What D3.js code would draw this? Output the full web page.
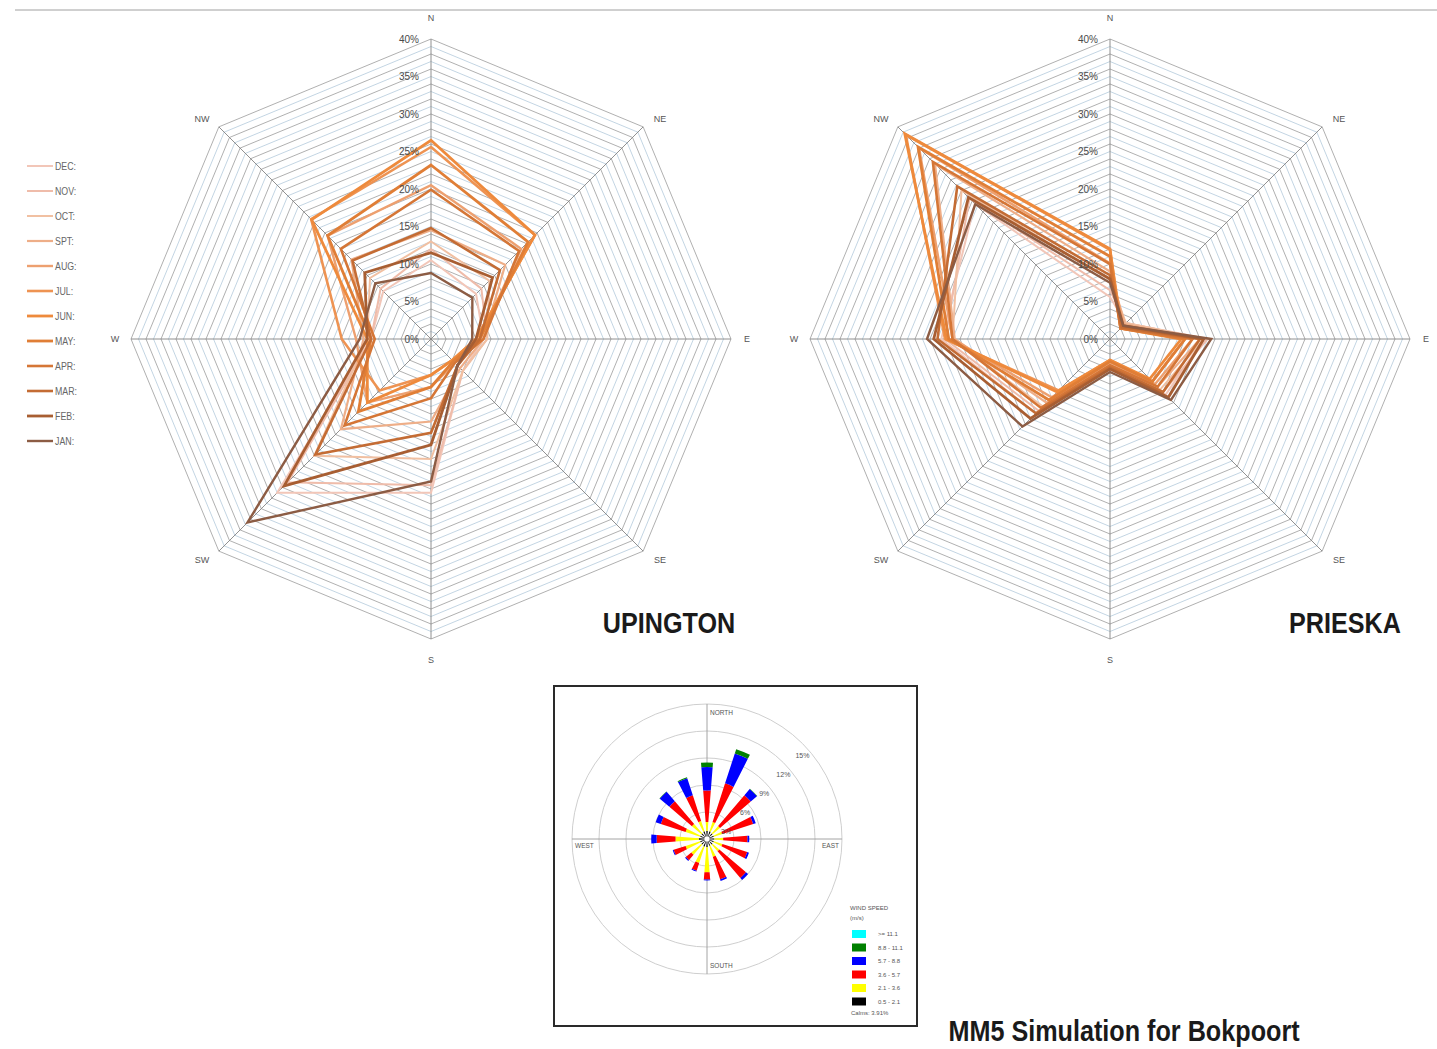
<!DOCTYPE html>
<html>
<head>
<meta charset="utf-8">
<script src="https://cdn.jsdelivr.net/npm/d3@7"></script>
<style>
  html, body { margin: 0; padding: 0; background: #fff; }
  svg { display: block; }
</style>
</head>
<body>
<svg id="chart" width="1437" height="1049"></svg>
<script>
// ---------------- data ----------------
const compass = ["N", "NE", "E", "SE", "S", "SW", "W", "NW"];
const monthLabels = ["DEC:", "NOV:", "OCT:", "SPT:", "AUG:", "JUL:", "JUN:", "MAY:", "APR:", "MAR:", "FEB:", "JAN:"];
const radarTicks = [0, 5, 10, 15, 20, 25, 30, 35, 40];
const radarTickLabels = ["0%", "5%", "10%", "15%", "20%", "25%", "30%", "35%", "40%"];

// Upington: monthly wind direction frequency (%), order N, NE, E, SE, S, SW, W, NW
const upingtonDEC = [10.5, 8.5, 7.0, 6.0, 20.5, 29.0, 8.0, 9.0];
const upingtonNOV = [12.0, 9.5, 7.5, 6.0, 19.5, 27.0, 8.0, 9.5];
const upingtonOCT = [13.0, 11.0, 7.5, 6.0, 16.0, 22.0, 8.5, 11.5];
const upingtonSPT = [14.5, 14.0, 7.0, 5.5, 11.0, 17.0, 9.0, 15.0];
const upingtonAUG = [20.5, 17.0, 6.5, 4.5, 6.4, 12.0, 10.0, 19.5];
const upingtonJUL = [25.6, 19.6, 6.0, 4.0, 4.8, 9.7, 11.9, 22.6];
const upingtonJUN = [26.5, 19.6, 6.0, 4.0, 4.8, 12.0, 8.5, 22.5];
const upingtonMAY = [23.2, 18.3, 6.5, 4.2, 6.4, 13.7, 8.0, 19.5];
const upingtonAPR = [19.9, 16.6, 7.0, 4.5, 7.9, 16.3, 7.5, 17.0];
const upingtonMAR = [14.8, 13.0, 6.5, 5.0, 12.5, 21.8, 8.0, 14.8];
const upingtonFEB = [11.5, 11.6, 6.0, 5.0, 14.1, 27.7, 8.5, 12.5];
const upingtonJAN = [8.8, 7.8, 5.5, 5.0, 19.0, 34.6, 9.5, 10.5];

// Prieska: monthly wind direction frequency (%), order N, NE, E, SE, S, SW, W, NW
const prieskaDEC = [5.6, 3.0, 12.5, 10.5, 4.0, 14.0, 22.5, 25.5];
const prieskaNOV = [6.5, 3.0, 13.0, 10.0, 3.8, 13.5, 22.0, 26.5];
const prieskaOCT = [7.9, 3.0, 12.5, 9.5, 3.5, 12.7, 21.0, 28.0];
const prieskaSPT = [9.0, 2.8, 12.0, 9.0, 3.2, 12.0, 20.7, 33.0];
const prieskaAUG = [10.1, 2.5, 11.0, 8.5, 3.0, 11.0, 21.0, 36.0];
const prieskaJUL = [11.9, 2.2, 10.0, 8.0, 2.8, 9.7, 22.0, 38.5];
const prieskaJUN = [12.0, 2.0, 9.5, 7.5, 2.8, 10.0, 21.8, 38.7];
const prieskaMAY = [11.0, 2.0, 10.0, 8.0, 3.0, 11.5, 21.5, 36.2];
const prieskaAPR = [10.0, 2.0, 11.0, 9.0, 3.5, 13.0, 21.0, 33.4];
const prieskaMAR = [8.5, 2.2, 12.0, 10.0, 3.8, 14.0, 23.0, 28.8];
const prieskaFEB = [8.0, 2.5, 12.5, 11.0, 4.0, 15.0, 23.5, 26.7];
const prieskaJAN = [7.5, 2.5, 13.5, 11.5, 4.4, 16.5, 24.4, 25.4];

// MM5 wind rose, 16 sectors from north clockwise, frequency (%) per speed class
const roseSectors = ["N", "NNE", "NE", "ENE", "E", "ESE", "SE", "SSE", "S", "SSW", "SW", "WSW", "W", "WNW", "NW", "NNW"];
const rose0521 = [0.9, 0.9, 0.8, 0.8, 0.8, 0.8, 0.8, 0.8, 0.9, 0.9, 0.8, 0.8, 0.9, 0.8, 0.8, 0.9];
const rose2136 = [1.0, 1.1, 1.1, 1.0, 1.0, 1.0, 1.0, 1.3, 2.8, 1.9, 1.5, 1.7, 2.6, 1.7, 1.4, 1.2];
const rose3657 = [3.5, 4.5, 4.5, 3.6, 2.7, 2.9, 3.9, 2.6, 0.8, 0.9, 0.8, 1.4, 2.1, 2.9, 3.3, 3.0];
const rose5788 = [2.6, 3.5, 0.9, 0.3, 0.2, 0.2, 0.3, 0.2, 0.1, 0.1, 0.1, 0.1, 0.6, 0.6, 1.4, 2.0];
const rose88111 = [0.5, 0.5, 0.05, 0, 0, 0, 0, 0, 0, 0, 0, 0, 0, 0, 0.05, 0.1];
const rose111 = [0, 0, 0, 0, 0, 0, 0, 0, 0, 0, 0, 0, 0, 0, 0, 0];
const roseRings = [3, 6, 9, 12, 15];
const roseRingLabels = ["3%", "6%", "9%", "12%", "15%"];
const speedLabels = [">= 11.1", "8.8 - 11.1", "5.7 - 8.8", "3.6 - 5.7", "2.1 - 3.6", "0.5 - 2.1"];
const calmsLabel = "Calms: 3.91%";

// ---------------- styles ----------------
const monthColors = ["#f2c6b8", "#efbcaa", "#f1c0a2", "#eeae88", "#eda070", "#ee9352",
                     "#ee8a3c", "#e07e36", "#d57636", "#c46c34", "#a85e32", "#8c5c44"];
const monthWidths = [2, 2, 2, 2.2, 2.4, 2.6, 2.8, 2.8, 2.6, 2.6, 2.8, 2.4];
const speedColors = ["#00ffff", "#008000", "#0000ff", "#ff0000", "#ffff00", "#000000"];

const svg = d3.select("#chart");
svg.append("rect").attr("width", 1437).attr("height", 1049).attr("fill", "#fff");
svg.append("line").attr("x1", 15).attr("x2", 1437).attr("y1", 10).attr("y2", 10)
  .attr("stroke", "#a0a0a0").attr("stroke-width", 1);

const plain = "'Liberation Sans', Arial, sans-serif";
const narrowScale = 0.84;

// condensed text: regular sans squeezed horizontally
function narrowText(parent, x, y, str, size, opts = {}) {
  return parent.append("text")
    .attr("transform", `translate(${x},${y}) scale(${narrowScale},1)`)
    .attr("text-anchor", opts.anchor || "start")
    .attr("dy", opts.dy || null)
    .attr("font-family", plain)
    .attr("font-weight", opts.weight || "normal")
    .attr("font-size", size)
    .attr("fill", opts.fill || "#1a1a1a")
    .text(str);
}

// ---------------- radar charts ----------------
const rScale = d3.scaleLinear().domain([0, 40]).range([0, 300]);
const angle = d3.scaleLinear().domain([0, compass.length]).range([0, 2 * Math.PI]);
const radial = d3.lineRadial()
  .angle((d, i) => angle(i))
  .radius(d => rScale(d))
  .curve(d3.curveLinearClosed);

function drawRadar(cx, cy, series, title, titleX) {
  const g = svg.append("g").attr("transform", `translate(${cx},${cy})`);

  // concentric octagon gridlines, one per percent
  d3.range(1, 41).forEach(k => {
    g.append("path")
      .attr("d", radial(compass.map(() => k)))
      .attr("fill", "none")
      .attr("stroke", k % 2 ? "#b4cadc" : "#9c9c9c")
      .attr("stroke-width", 0.8);
  });
  // spokes
  compass.forEach((c, i) => {
    const a = angle(i);
    g.append("line")
      .attr("x1", 0).attr("y1", 0)
      .attr("x2", rScale(40) * Math.sin(a)).attr("y2", -rScale(40) * Math.cos(a))
      .attr("stroke", "#858585").attr("stroke-width", 0.9);
  });
  // compass labels
  compass.forEach((c, i) => {
    const a = angle(i);
    const diag = i % 2 === 1;
    g.append("text")
      .attr("x", (diag ? 324 : 316) * Math.sin(a))
      .attr("y", -(diag ? 312 : 321) * Math.cos(a))
      .attr("dy", "0.35em").attr("text-anchor", "middle")
      .attr("font-family", plain).attr("font-size", 9).attr("fill", "#555")
      .text(c);
  });
  // month series
  series.forEach((vals, i) => {
    g.append("path")
      .attr("d", radial(vals))
      .attr("fill", "none")
      .attr("stroke", monthColors[i])
      .attr("stroke-width", monthWidths[i])
      .attr("stroke-linejoin", "miter");
  });
  // percentage labels along the north spoke
  radarTicks.forEach((t, i) => {
    g.append("text")
      .attr("x", -12).attr("y", -rScale(t)).attr("dy", "0.35em")
      .attr("text-anchor", "end")
      .attr("font-family", plain).attr("font-size", 10).attr("fill", "#4a4a4a")
      .text(radarTickLabels[i]);
  });
  narrowText(svg, titleX, 633, title, 30, { anchor: "middle", weight: "bold" });
}

const upingtonSeries = [upingtonDEC, upingtonNOV, upingtonOCT, upingtonSPT, upingtonAUG, upingtonJUL,
                        upingtonJUN, upingtonMAY, upingtonAPR, upingtonMAR, upingtonFEB, upingtonJAN];
const prieskaSeries = [prieskaDEC, prieskaNOV, prieskaOCT, prieskaSPT, prieskaAUG, prieskaJUL,
                       prieskaJUN, prieskaMAY, prieskaAPR, prieskaMAR, prieskaFEB, prieskaJAN];

drawRadar(431, 339, upingtonSeries, "UPINGTON", 669);
drawRadar(1110, 339, prieskaSeries, "PRIESKA", 1345);

// month legend
const legend = svg.append("g");
monthLabels.forEach((m, i) => {
  const y = 166 + i * 25;
  legend.append("line").attr("x1", 27).attr("x2", 53).attr("y1", y).attr("y2", y)
    .attr("stroke", monthColors[i]).attr("stroke-width", monthWidths[i]);
  narrowText(legend, 55, y, m, 10.5, { dy: "0.35em", fill: "#666" });
});

// ---------------- MM5 wind rose ----------------
svg.append("rect").attr("x", 554).attr("y", 686).attr("width", 363).attr("height", 340)
  .attr("fill", "#fff").attr("stroke", "#2a2a2a").attr("stroke-width", 2);

const rcx = 707, rcy = 839;
const roseR = d3.scaleLinear().domain([0, 15]).range([0, 135]);
const rose = svg.append("g").attr("transform", `translate(${rcx},${rcy})`);

roseRings.forEach(v => {
  rose.append("circle").attr("r", roseR(v)).attr("fill", "none")
    .attr("stroke", "#c8c8c8").attr("stroke-width", 0.9);
});
rose.append("line").attr("x1", 0).attr("x2", 0).attr("y1", -roseR(15)).attr("y2", roseR(15))
  .attr("stroke", "#9a9a9a").attr("stroke-width", 0.9);
rose.append("line").attr("y1", 0).attr("y2", 0).attr("x1", -roseR(15)).attr("x2", roseR(15))
  .attr("stroke", "#9a9a9a").attr("stroke-width", 0.9);

// speed classes stacked outward, slowest first
const classes = [rose0521, rose2136, rose3657, rose5788, rose88111, rose111];
const classColors = [speedColors[5], speedColors[4], speedColors[3], speedColors[2], speedColors[1], speedColors[0]];
const sectorAngle = d3.scaleLinear().domain([0, roseSectors.length]).range([0, 2 * Math.PI]);
const halfWidth = 4.5 * Math.PI / 180;
const arc = d3.arc();
roseSectors.forEach((s, j) => {
  let acc = 0;
  classes.forEach((cls, k) => {
    const v = cls[j];
    if (v > 0) {
      rose.append("path")
        .attr("d", arc({
          innerRadius: roseR(acc), outerRadius: roseR(acc + v),
          startAngle: sectorAngle(j) - halfWidth, endAngle: sectorAngle(j) + halfWidth
        }))
        .attr("fill", classColors[k]);
    }
    acc += v;
  });
});
rose.append("circle").attr("r", 3.2).attr("fill", "#fff").attr("stroke", "#555").attr("stroke-width", 0.8);

// ring labels on the north-east diagonal
roseRings.forEach((v, i) => {
  const a = Math.PI / 4;
  rose.append("text")
    .attr("x", roseR(v) * Math.sin(a)).attr("y", -roseR(v) * Math.cos(a) + 12)
    .attr("dy", "0.35em").attr("text-anchor", "middle")
    .attr("font-family", plain).attr("font-size", 7).attr("fill", "#555")
    .text(roseRingLabels[i]);
});
// cardinal labels
const cardinal = [
  { t: "NORTH", x: 3, y: -roseR(15) + 9, a: "start" },
  { t: "SOUTH", x: 3, y: roseR(15) - 8, a: "start" },
  { t: "WEST", x: -roseR(15) + 3, y: 7, a: "start" },
  { t: "EAST", x: roseR(15) - 3, y: 7, a: "end" }
];
cardinal.forEach(c => {
  rose.append("text").attr("x", c.x).attr("y", c.y).attr("dy", "0.35em")
    .attr("text-anchor", c.a)
    .attr("font-family", plain).attr("font-size", 6.5).attr("fill", "#555")
    .text(c.t);
});

// speed legend
const sl = svg.append("g");
sl.append("text").attr("x", 850).attr("y", 908).attr("dy", "0.35em")
  .attr("font-family", plain).attr("font-size", 6).attr("fill", "#555").text("WIND SPEED");
sl.append("text").attr("x", 850).attr("y", 918).attr("dy", "0.35em")
  .attr("font-family", plain).attr("font-size", 6).attr("fill", "#555").text("(m/s)");
speedLabels.forEach((lab, i) => {
  const y = 930 + i * 13.5;
  sl.append("rect").attr("x", 852).attr("y", y).attr("width", 14).attr("height", 8)
    .attr("fill", speedColors[i]);
  sl.append("text").attr("x", 878).attr("y", y + 4).attr("dy", "0.35em")
    .attr("font-family", plain).attr("font-size", 6).attr("fill", "#555").text(lab);
});
sl.append("text").attr("x", 851).attr("y", 1013).attr("dy", "0.35em")
  .attr("font-family", plain).attr("font-size", 6).attr("fill", "#555").text(calmsLabel);

narrowText(svg, 1124, 1041, "MM5 Simulation for Bokpoort", 30, { anchor: "middle", weight: "bold" });
</script>
</body>
</html>
